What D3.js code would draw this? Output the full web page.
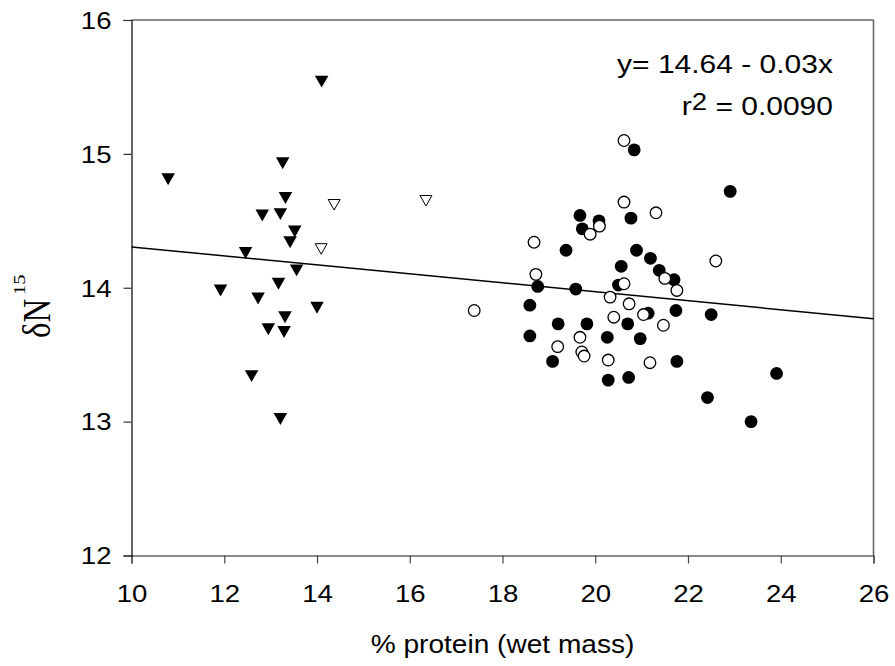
<!DOCTYPE html>
<html>
<head>
<meta charset="utf-8">
<script src="https://cdn.jsdelivr.net/npm/d3@7/dist/d3.min.js"></script>
<style>
  html, body { margin: 0; padding: 0; background: #fff; }
  svg { display: block; }
</style>
</head>
<body>
<svg id="chart" width="895" height="666"></svg>
<script>
// ---- data ----
const xTicks = [10, 12, 14, 16, 18, 20, 22, 24, 26];
const yTicks = [12, 13, 14, 15, 16];

const triFilledX = [14.10, 10.79, 13.26, 13.32, 12.82, 13.21, 13.52, 13.42, 12.46, 13.56, 13.17, 11.92, 12.73, 14.00, 13.31, 12.95, 13.29, 12.59, 13.21];
const triFilledY = [15.54, 14.81, 14.93, 14.67, 14.54, 14.55, 14.42, 14.34, 14.26, 14.13, 14.03, 13.98, 13.92, 13.85, 13.78, 13.69, 13.67, 13.34, 13.02];

const triOpenX = [14.37, 14.09, 16.35];
const triOpenY = [14.62, 14.29, 14.65];

const circFilledX = [20.84, 19.67, 20.08, 19.72, 20.77, 19.37, 20.89, 21.19, 20.56, 21.38, 21.70, 20.50, 18.76, 19.58, 18.59, 21.74, 21.14, 19.20, 19.82, 20.70, 18.59, 20.26, 20.97, 19.08, 21.76, 20.28, 20.72, 22.91, 22.50, 23.91, 22.42, 23.36];
const circFilledY = [15.03, 14.54, 14.50, 14.44, 14.52, 14.28, 14.28, 14.22, 14.16, 14.13, 14.06, 14.02, 14.01, 13.99, 13.87, 13.83, 13.81, 13.73, 13.73, 13.73, 13.64, 13.63, 13.62, 13.45, 13.45, 13.31, 13.33, 14.72, 13.80, 13.36, 13.18, 13.00];

const circOpenX = [20.62, 20.62, 21.31, 20.09, 19.89, 18.68, 18.72, 20.62, 21.50, 21.76, 20.32, 20.73, 17.39, 21.04, 20.40, 21.47, 19.67, 19.19, 19.71, 19.76, 20.28, 21.18, 22.60];
const circOpenY = [15.10, 14.64, 14.56, 14.46, 14.40, 14.34, 14.10, 14.03, 14.07, 13.98, 13.93, 13.88, 13.83, 13.80, 13.78, 13.72, 13.63, 13.56, 13.52, 13.49, 13.46, 13.44, 14.20];

const fitIntercept = 14.64;
const fitSlope = -0.0335;
const fitRange = [10, 26];

const eqLine1 = "y= 14.64 - 0.03x";
const eqR = "r";
const eqSup = "2";
const eqLine2 = " = 0.0090";
const xTitle = "% protein (wet mass)";
const yTitleMain = "δN";
const yTitleSup = "15";

// ---- layout ----
const SANS = "'Liberation Sans', Arial, sans-serif";
const SERIF = "'Liberation Serif', 'Times New Roman', serif";
const svg = d3.select("#chart");
const mLeft = 131.5, mRight = 873.5, mTop = 20, mBottom = 555.5;
const x = d3.scaleLinear().domain([10, 26]).range([mLeft, mRight]);
const y = d3.scaleLinear().domain([12, 16]).range([mBottom, mTop]);
const SX = 1.2; // horizontal text stretch seen in the reference

// frame (top and right)
svg.append("line").attr("x1", mLeft).attr("x2", mRight).attr("y1", mTop).attr("y2", mTop)
  .attr("stroke", "#666").attr("stroke-width", 1.6);
svg.append("line").attr("x1", mRight).attr("x2", mRight).attr("y1", mTop).attr("y2", mBottom)
  .attr("stroke", "#666").attr("stroke-width", 1.6);

// x axis
const gx = svg.append("g").attr("transform", `translate(0,${mBottom})`)
  .call(d3.axisBottom(x).tickValues(xTicks).tickSize(8).tickPadding(0).tickFormat(d3.format("d")));
gx.select(".domain").attr("stroke", "#666").attr("stroke-width", 1.6);
gx.selectAll(".tick line").attr("stroke", "#444").attr("stroke-width", 1.2);
gx.selectAll(".tick text").style("font-size", "23px").style("font-family", SANS)
  .attr("fill", "#000").attr("y", 0).attr("dy", 0).attr("transform", `translate(0,46) scale(${SX},1)`);

// y axis
const gy = svg.append("g").attr("transform", `translate(${mLeft},0)`)
  .call(d3.axisLeft(y).tickValues(yTicks).tickSize(8).tickPadding(0).tickFormat(d3.format("d")));
gy.select(".domain").attr("stroke", "#000").attr("stroke-width", 1.2);
gy.selectAll(".tick line").attr("stroke", "#333").attr("stroke-width", 1.2);
gy.selectAll(".tick text").style("font-size", "23px").style("font-family", SANS)
  .attr("fill", "#000").attr("x", 0).attr("dy", "0.36em").attr("transform", `translate(-20,0) scale(${SX},1)`);

// regression line
svg.append("line")
  .attr("x1", x(fitRange[0])).attr("y1", y(fitIntercept + fitSlope * fitRange[0]))
  .attr("x2", x(fitRange[1])).attr("y2", y(fitIntercept + fitSlope * fitRange[1]))
  .attr("stroke", "#000").attr("stroke-width", 1.5);

// down-triangle symbol centred on its bounding box
const downTri = {
  draw(ctx, size) {
    const w = Math.sqrt(size * 4 / Math.sqrt(3)) * 1.05;
    const h = w * 0.88;
    ctx.moveTo(-w / 2, -h / 2);
    ctx.lineTo(w / 2, -h / 2);
    ctx.lineTo(0, h / 2);
    ctx.closePath();
  }
};
const triFilled = triFilledX.map((v, i) => [v, triFilledY[i]]);
const triOpen = triOpenX.map((v, i) => [v, triOpenY[i]]);
const circFilled = circFilledX.map((v, i) => [v, circFilledY[i]]);
const circOpen = circOpenX.map((v, i) => [v, circOpenY[i]]);

svg.append("g").selectAll("path").data(triFilled).join("path")
  .attr("d", d3.symbol(downTri, 72))
  .attr("transform", d => `translate(${x(d[0])},${y(d[1])})`)
  .attr("fill", "#000");
svg.append("g").selectAll("path").data(triOpen).join("path")
  .attr("d", d3.symbol(downTri, 56))
  .attr("transform", d => `translate(${x(d[0])},${y(d[1])})`)
  .attr("fill", "#fff").attr("stroke", "#000").attr("stroke-width", 1);

svg.append("g").selectAll("circle").data(circFilled).join("circle")
  .attr("cx", d => x(d[0])).attr("cy", d => y(d[1])).attr("r", 6.4)
  .attr("fill", "#000");
svg.append("g").selectAll("circle").data(circOpen).join("circle")
  .attr("cx", d => x(d[0])).attr("cy", d => y(d[1])).attr("r", 5.8)
  .attr("fill", "#fff").attr("stroke", "#000").attr("stroke-width", 1.3);

// equation
const eqRight = 833;
svg.append("text").style("font-family", SANS).style("font-size", "25px").attr("text-anchor", "end")
  .attr("transform", `translate(${eqRight},73) scale(${SX},1)`).text(eqLine1);
const t2 = svg.append("text").style("font-family", SANS).style("font-size", "25px").attr("text-anchor", "end")
  .attr("transform", `translate(${eqRight},115) scale(${SX},1)`);
t2.append("tspan").text(eqR);
t2.append("tspan").attr("dy", -5).style("font-size", "23px").text(eqSup);
t2.append("tspan").attr("dy", 5).text(eqLine2);

// x title
svg.append("text").style("font-family", SANS).style("font-size", "26px").attr("text-anchor", "middle")
  .attr("transform", `translate(${(mLeft + mRight) / 2},653) scale(1.08,1)`).text(xTitle);

// y title  δN^15
const yt = svg.append("g").attr("transform", "translate(50,338) rotate(-90)");
yt.append("text").style("font-family", SERIF).style("font-size", "41px")
  .attr("transform", "scale(0.8,1)").text(yTitleMain);
yt.append("text").style("font-family", SERIF).style("font-size", "17px")
  .attr("transform", "translate(43,-25) scale(1.2,1)").text(yTitleSup);
</script>
</body>
</html>
